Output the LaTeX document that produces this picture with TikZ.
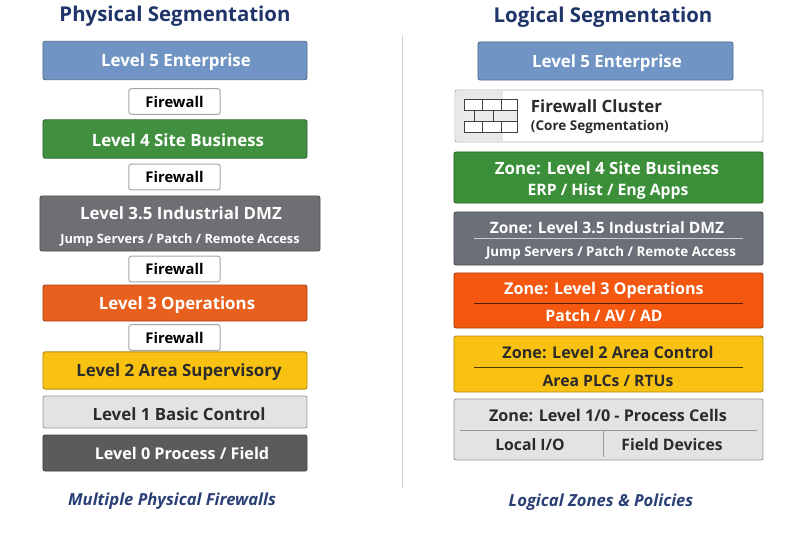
\documentclass[tikz,border=0pt]{standalone}
\usepackage{fontspec}
\setmainfont{Open Sans}
\begin{document}
\begin{tikzpicture}[
    x=0.025cm, y=-0.025cm,
    level/.style={rectangle, draw=#1!70!black, fill=#1, rounded corners=1.5pt, line width=0.6pt, inner sep=0pt},
    wallbox/.style={rectangle, draw=gray!70, fill=white, rounded corners=1.5pt, line width=0.7pt, inner sep=0pt, minimum width=2.275cm, minimum height=0.64cm, font=\fontsize{10.5}{12}\selectfont\bfseries},
    head/.style={text=navy, yshift=-1pt, font=\fontsize{14.5}{17}\selectfont\bfseries},
    foot/.style={text=navyfoot, yshift=-1pt, font=\fontsize{11.8}{14}\selectfont\bfseries\itshape},
    main/.style={text=#1, yshift=-0.6pt, font=\fontsize{12}{14}\selectfont\bfseries},
    mainsmall/.style={text=#1, yshift=-0.6pt, font=\fontsize{11.5}{14}\selectfont\bfseries},
    sub/.style={text=#1, yshift=-0.8pt, font=\fontsize{9.1}{11}\selectfont\bfseries},
    subbig/.style={text=#1, yshift=-0.4pt, font=\fontsize{11.2}{13}\selectfont\bfseries},
    rule/.style={line width=0.5pt}
]
\definecolor{navy}{HTML}{1F3468}
\definecolor{navyfoot}{HTML}{2A3F75}
\definecolor{entblue}{HTML}{7095C4}
\definecolor{sitegreen}{HTML}{41903F}
\definecolor{dmzgray}{HTML}{6D6F73}
\definecolor{opsorange}{HTML}{E8601E}
\definecolor{areayellow}{HTML}{F9C212}
\definecolor{basiclight}{HTML}{E3E3E3}
\definecolor{fielddark}{HTML}{5A5B5D}
\definecolor{zonegreen}{HTML}{3B8F38}
\definecolor{zonegray}{HTML}{6B6F78}
\definecolor{zoneorange}{HTML}{F4570F}
\definecolor{textdark}{HTML}{2B2B2B}
\useasboundingbox (0,0) rectangle (800,533);

% Titles
\node[head] (phystitle) at (175,15) {Physical Segmentation};
\node[head] (logtitle) at (603,16) {Logical Segmentation};

% Center line
\draw[gray!35, line width=0.5pt] (402,35) -- (402,488);

% Physical column
\node[level=entblue, minimum width=6.6cm, minimum height=0.96cm] (pfive) at (175,60.5) {};
\node[main=white] (pfivetext) at (176,61) {Level 5 Enterprise};
\node[wallbox] (fwone) at (174.5,101.5) {Firewall};
\node[level=sitegreen, minimum width=6.6cm, minimum height=0.96cm] (pfour) at (175,139) {};
\node[main=white] (pfourtext) at (178,139.5) {Level 4 Site Business};
\node[wallbox] (fwtwo) at (174.5,177) {Firewall};
\node[level=dmzgray, minimum width=7cm, minimum height=1.375cm] (pdmz) at (180,223.5) {};
\node[main=white] (pdmztext) at (181,212.5) {Level 3.5 Industrial DMZ};
\node[sub=white] (pdmzsub) at (180,239.5) {Jump Servers / Patch / Remote Access};
\draw[rule, black!55] (57,225.5) -- (303,225.5);
\node[wallbox] (fwthree) at (174.5,269) {Firewall};
\node[level=opsorange, minimum width=6.6cm, minimum height=0.9cm] (pthree) at (175,303) {};
\node[main=white] (pthreetext) at (177,304) {Level 3 Operations};
\node[wallbox] (fwfour) at (174.5,337.5) {Firewall};
\node[level=areayellow, minimum width=6.6cm, minimum height=0.93cm] (ptwo) at (175,370.5) {};
\node[main=textdark] (ptwotext) at (179,371) {Level 2 Area Supervisory};
\node[level=basiclight, draw=gray!80, minimum width=6.6cm, minimum height=0.8cm] (pone) at (175,412) {};
\node[main=textdark] (ponetext) at (179,413) {Level 1 Basic Control};
\node[level=fielddark, minimum width=6.6cm, minimum height=0.9cm] (pzero) at (175,453) {};
\node[mainsmall=white] (pzerotext) at (182,453) {Level 0 Process / Field};
\node[foot] (physfoot) at (172,500) {Multiple Physical Firewalls};

% Logical column
\node[level=entblue, minimum width=6.375cm, minimum height=0.95cm] (lfive) at (605.5,61) {};
\node[main=white] (lfivetext) at (607,62) {Level 5 Enterprise};

% Firewall cluster
\node[level=white, draw=gray!60, minimum width=7.7cm, minimum height=1.3cm] (cluster) at (609,116) {};
\fill[black!9] (456,91) rectangle (503,141);
\node[anchor=west, main=textdark] (clustertext) at (526,105) {Firewall Cluster};
\node[anchor=west, sub=textdark, font=\fontsize{9.6}{11}\selectfont\bfseries] (clustersub) at (526,126) {(Core Segmentation)};
\draw[black!75, line width=0.6pt, fill=white] (464,99) rectangle (517,132);
\fill[black!8] (464,110) rectangle (517,121);
\foreach \yy in {110,121}
    \draw[black!75, line width=0.6pt] (464,\yy) -- (517,\yy);
\foreach \xx in {482,501} {
    \draw[black!75, line width=0.6pt] (\xx,99) -- (\xx,110);
    \draw[black!75, line width=0.6pt] (\xx,121) -- (\xx,132);
}
\foreach \xx in {474,493}
    \draw[black!75, line width=0.6pt] (\xx,110) -- (\xx,121);

% Zones
\node[level=zonegreen, minimum width=7.725cm, minimum height=1.275cm] (zfour) at (608.5,177.5) {};
\node[main=white] (zfourtext) at (607,167.5) {Zone: Level 4 Site Business};
\node[subbig=white] (zfoursub) at (608,191) {ERP / Hist / Eng Apps};

\node[level=zonegray, minimum width=7.725cm, minimum height=1.325cm] (zdmz) at (608.5,238.5) {};
\node[mainsmall=white, font=\fontsize{11.1}{14}\selectfont\bfseries] (zdmztext) at (607,227) {Zone: Level 3.5 Industrial DMZ};
\draw[rule, white!80!black] (474,238.5) -- (743,238.5);
\node[sub=white, font=\fontsize{9.5}{11}\selectfont\bfseries] (zdmzsub) at (611,252) {Jump Servers / Patch / Remote Access};

\node[level=zoneorange, minimum width=7.725cm, minimum height=1.375cm] (zthree) at (608.5,300.5) {};
\node[mainsmall=white] (zthreetext) at (604,289) {Zone: Level 3 Operations};
\draw[rule, black!65!zoneorange] (474,303.5) -- (743,303.5);
\node[subbig=white] (zthreesub) at (604,315) {Patch / AV / AD};

\node[level=areayellow, minimum width=7.725cm, minimum height=1.4cm] (ztwo) at (608.5,364) {};
\node[mainsmall=textdark] (ztwotext) at (608,352) {Zone: Level 2 Area Control};
\draw[rule, black!70!areayellow] (474,367) -- (743,367);
\node[subbig=textdark] (ztwosub) at (608,380) {Area PLCs / RTUs};

\node[level=basiclight, draw=gray!80, minimum width=7.725cm, minimum height=1.525cm] (zcell) at (608.5,429.5) {};
\node[mainsmall=textdark] (zcelltext) at (608,415) {Zone: Level 1/0 - Process Cells};
\draw[rule, gray!80, line width=0.7pt] (460,430) -- (757,430);
\draw[rule, gray!80, line width=0.7pt] (603,431) -- (603,457);
\node[subbig=textdark] (localio) at (530,444.5) {Local I/O};
\node[subbig=textdark] (fielddev) at (672,444.5) {Field Devices};

\node[foot] (logfoot) at (601,501) {Logical Zones \& Policies};

\end{tikzpicture}
\end{document}
